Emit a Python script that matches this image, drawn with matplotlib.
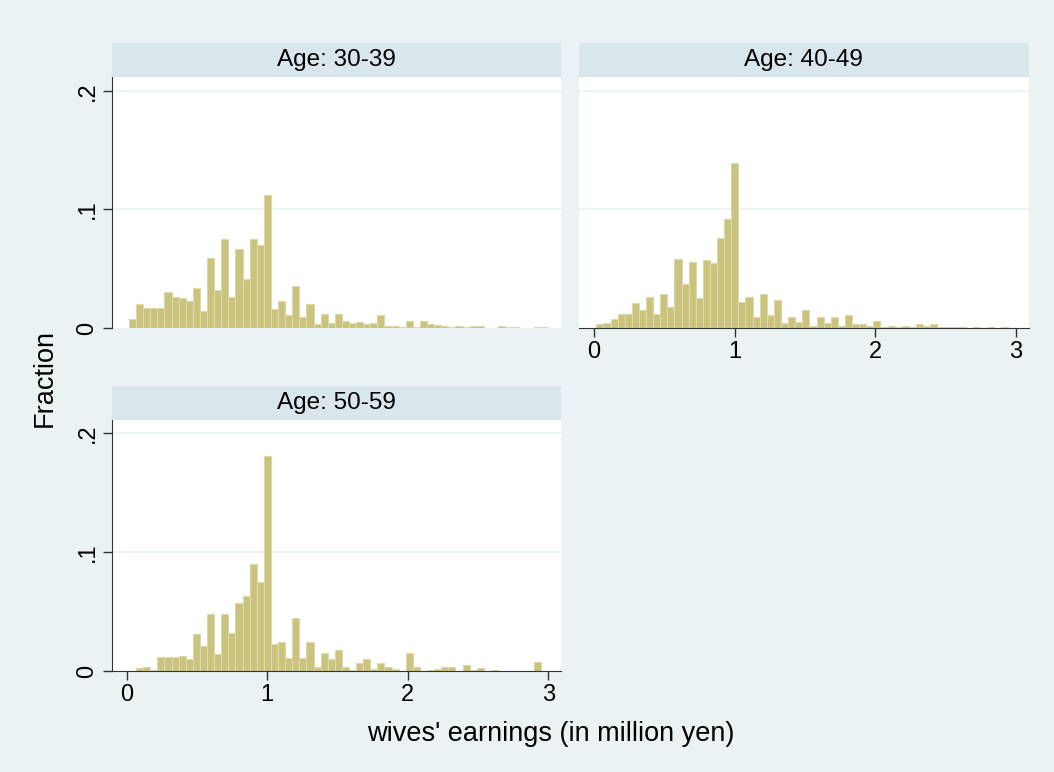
import matplotlib
matplotlib.use("Agg")
import matplotlib.pyplot as plt
import numpy as np

plt.rcParams['font.family'] = ['Liberation Sans', 'DejaVu Sans']

# histogram bins (million yen), shared by all panels
bin_start = 0.016
bin_width = 0.0505
n_bins = 60

panel_titles = ["Age: 30-39", "Age: 40-49", "Age: 50-59"]

frac_30_39 = [0.008, 0.020, 0.017, 0.017, 0.017, 0.030, 0.026, 0.025, 0.023, 0.034,
              0.014, 0.059, 0.032, 0.075, 0.026, 0.067, 0.041, 0.075, 0.070, 0.112,
              0.016, 0.023, 0.011, 0.035, 0.0096, 0.020, 0.003, 0.012, 0.004, 0.012,
              0.006, 0.004, 0.005, 0.0035, 0.004, 0.011, 0.002, 0.002, 0.0005, 0.0056,
              0.001, 0.0056, 0.003, 0.0025, 0.002, 0.001, 0.002, 0.001, 0.002, 0.002,
              0, 0, 0.0015, 0.001, 0.001, 0, 0, 0.001, 0.001, 0]

frac_40_49 = [0.003, 0.004, 0.008, 0.012, 0.012, 0.021, 0.015, 0.026, 0.012, 0.029,
              0.018, 0.058, 0.037, 0.056, 0.025, 0.057, 0.055, 0.076, 0.092, 0.139,
              0.022, 0.026, 0.0093, 0.029, 0.011, 0.024, 0.004, 0.0096, 0.005, 0.015,
              0.002, 0.0096, 0.004, 0.009, 0.002, 0.011, 0.0034, 0.003, 0.002, 0.006,
              0.001, 0.002, 0.0006, 0.0014, 0.001, 0.003, 0.002, 0.0034, 0.0006, 0.0005,
              0.001, 0.0005, 0, 0.0006, 0, 0.001, 0, 0.0006, 0, 0]

frac_50_59 = [0, 0.0023, 0.003, 0.001, 0.012, 0.012, 0.012, 0.013, 0.010, 0.031,
              0.021, 0.048, 0.014, 0.048, 0.032, 0.057, 0.063, 0.090, 0.075, 0.181,
              0.023, 0.024, 0.011, 0.045, 0.011, 0.024, 0.003, 0.015, 0.0105, 0.018,
              0.003, 0.001, 0.007, 0.0097, 0.002, 0.0066, 0.003, 0.002, 0, 0.0154,
              0.003, 0, 0.0006, 0.002, 0.003, 0.003, 0, 0.0054, 0.001, 0.0023,
              0, 0.0006, 0, 0, 0, 0, 0, 0.0074, 0, 0]

x_ticks = [0, 1, 2, 3]
y_ticks = [0, 0.1, 0.2]
y_ticklabels = ["0", ".1", ".2"]

bg = '#EAF2F3'
strip_col = '#D9E6EB'
bar_face = '#CAC37D'
bar_edge = '#DDD8A8'
axis_col = '#333333'

W, H = 1054, 772
fig = plt.figure(figsize=(W / 100, H / 100), dpi=100)
fig.patch.set_facecolor(bg)

def fx(px):
    return px / W

def fy(py):
    return 1 - py / H

# (left, right, strip top, plot top, plot bottom) in pixels
boxes = [(111.7, 561, 43, 77, 328),
         (579, 1028.7, 43, 77, 328),
         (111.7, 561, 386, 419.5, 671)]
show_y = [True, False, True]
show_x = [False, True, True]

edges = bin_start + bin_width * np.arange(n_bins + 1)

for k, heights in enumerate([frac_30_39, frac_40_49, frac_50_59]):
    l, r, st, pt, pb = boxes[k]
    ax = fig.add_axes([fx(l), fy(pb), fx(r) - fx(l), fy(pt) - fy(pb)])
    ax.set_facecolor('white')
    h = np.array(heights)
    keep = h > 0
    ax.bar(edges[:-1][keep], h[keep], width=bin_width, align='edge',
           color=bar_face, edgecolor=bar_edge, linewidth=0.8, zorder=2)
    for yv in y_ticks[1:]:
        ax.axhline(yv, color=bg, lw=1.3, zorder=1)
    ax.set_xlim(-0.107, 3.09)
    ax.set_ylim(0, 0.2116)
    for s in ax.spines.values():
        s.set_visible(False)
    if show_y[k]:
        ax.spines['left'].set_visible(True)
        ax.spines['left'].set_color(axis_col)
        ax.set_yticks(y_ticks)
        ax.set_yticklabels(y_ticklabels, rotation=90, va='center', fontsize=17)
    else:
        ax.set_yticks([])
    if show_x[k]:
        ax.spines['bottom'].set_visible(True)
        ax.spines['bottom'].set_color(axis_col)
        ax.set_xticks(x_ticks)
        ax.set_xticklabels([str(t) for t in x_ticks], fontsize=17)
    else:
        ax.set_xticks([])
    ax.tick_params(direction='out', length=6.5, width=1, color=axis_col,
                   labelcolor='black', pad=3)

    sax = fig.add_axes([fx(l), fy(pt), fx(r) - fx(l), fy(st) - fy(pt)])
    sax.set_facecolor(strip_col)
    sax.set_xticks([])
    sax.set_yticks([])
    for s in sax.spines.values():
        s.set_visible(False)
    sax.text(0.5, 0.5, panel_titles[k], ha='center', va='center',
             fontsize=17.5, transform=sax.transAxes)

fig.text(fx(45), fy(378), "Fraction", rotation=90, ha='center', va='center', fontsize=19.5)
fig.text(fx(551), fy(734), "wives' earnings (in million yen)", ha='center', va='center',
         fontsize=19.5)

fig.savefig("out.png", dpi=100, facecolor=bg)
